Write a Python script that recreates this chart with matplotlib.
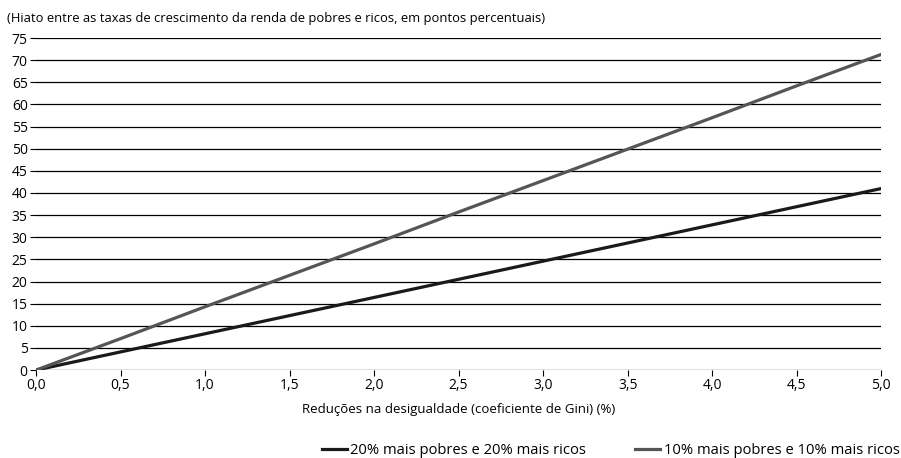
import numpy as np
import matplotlib.pyplot as plt

# Reduções no Gini (%)
x = [0.0, 0.5, 1.0, 1.5, 2.0, 2.5, 3.0, 3.5, 4.0, 4.5, 5.0]
# Hiato (pontos percentuais)
hiato_20 = [0.0, 4.1, 8.2, 12.3, 16.4, 20.5, 24.6, 28.7, 32.8, 36.9, 41.0]
hiato_10 = [0.0, 7.1, 14.3, 21.4, 28.5, 35.7, 42.8, 49.9, 57.0, 64.2, 71.3]

xticks = x
xticklabels = ['0,0', '0,5', '1,0', '1,5', '2,0', '2,5', '3,0', '3,5', '4,0', '4,5', '5,0']
yticks = list(range(0, 80, 5))

plt.rcParams['font.family'] = ['Open Sans', 'DejaVu Sans']

fig = plt.figure(figsize=(9.01, 4.58), dpi=100)
ax = fig.add_axes([0.04, 0.192, 0.938, 0.725])

for v in yticks:
    ax.axhline(v, color='black', lw=0.9, zorder=1)

ax.plot(x, hiato_20, color='#1a1a1a', lw=2.3, label='20% mais pobres e 20% mais ricos', zorder=3)
ax.plot(x, hiato_10, color='#555555', lw=2.3, label='10% mais pobres e 10% mais ricos', zorder=3)

ax.set_xlim(0, 5.0)
ax.set_ylim(0, 75)
ax.set_xticks(xticks)
ax.set_xticklabels(xticklabels, fontsize=10)
ax.set_yticks(yticks)
ax.set_yticklabels([str(v) for v in yticks], fontsize=10)
ax.tick_params(axis='both', length=4, width=0.8, color='black', pad=2)
for s in ax.spines.values():
    s.set_visible(False)

ax.set_xlabel('Reduções na desigualdade (coeficiente de Gini) (%)', fontsize=9.5, labelpad=7)
fig.text(0.008, 0.952, '(Hiato entre as taxas de crescimento da renda de pobres e ricos, em pontos percentuais)',
         fontsize=9.35)

fig.legend(loc='lower right', bbox_to_anchor=(1.013, -0.03), ncol=2, frameon=False, fontsize=10.6,
           handlelength=1.7, handletextpad=0.25, columnspacing=3.3)

fig.savefig('out.png', dpi=100)
